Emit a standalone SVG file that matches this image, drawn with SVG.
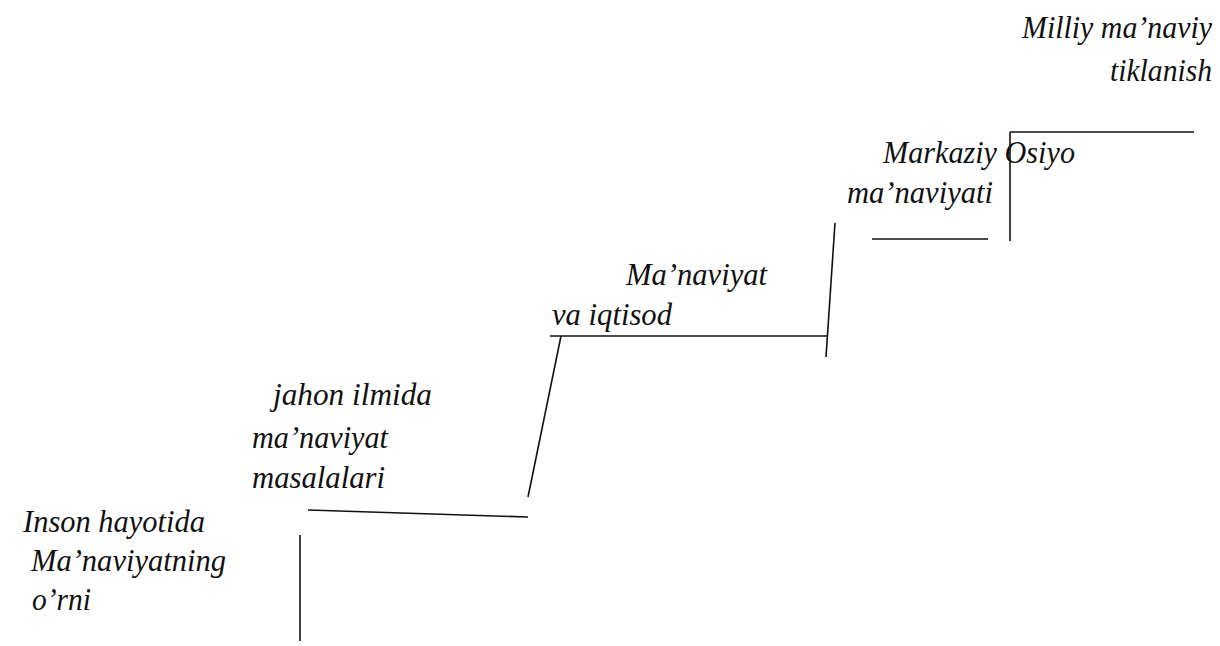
<svg xmlns="http://www.w3.org/2000/svg" width="1220" height="646" viewBox="0 0 1220 646">
<style>
text{font-family:"Liberation Serif","Times New Roman",serif;font-style:italic;font-size:31px;fill:#111}
.r{text-anchor:end}
line{stroke:#111;stroke-width:1.6;fill:none}
</style>
<rect width="1220" height="646" fill="#fff"/>
<g id="connectors">
<line x1="300" y1="535" x2="300" y2="641"/>
<line x1="308" y1="510" x2="528" y2="517"/>
<line x1="528" y1="497" x2="561" y2="336"/>
<line x1="550" y1="336" x2="828" y2="336"/>
<line x1="835" y1="223" x2="826" y2="357"/>
<line x1="872" y1="239" x2="988" y2="239"/>
<line x1="1010" y1="241" x2="1010" y2="132"/>
<line x1="1010" y1="132" x2="1194" y2="132"/>
</g>
<g id="node1">
<text x="23" y="532" textLength="182" lengthAdjust="spacingAndGlyphs">Inson hayotida</text>
<text x="31" y="571" textLength="195" lengthAdjust="spacingAndGlyphs">Ma’naviyatning</text>
<text x="32" y="610" textLength="59" lengthAdjust="spacingAndGlyphs">o’rni</text>
</g>
<g id="node2">
<text x="273" y="405" textLength="159" lengthAdjust="spacingAndGlyphs">jahon ilmida</text>
<text x="252" y="448" textLength="136" lengthAdjust="spacingAndGlyphs">ma’naviyat</text>
<text x="252" y="488" textLength="133" lengthAdjust="spacingAndGlyphs">masalalari</text>
</g>
<g id="node3">
<text x="626" y="285" textLength="141" lengthAdjust="spacingAndGlyphs">Ma’naviyat</text>
<text x="552" y="325" textLength="120" lengthAdjust="spacingAndGlyphs">va iqtisod</text>
</g>
<g id="node4">
<text x="883" y="163" textLength="192" lengthAdjust="spacingAndGlyphs">Markaziy Osiyo</text>
<text x="847" y="203" textLength="146" lengthAdjust="spacingAndGlyphs">ma’naviyati</text>
</g>
<g id="node5">
<text class="r" x="1212" y="38" textLength="190" lengthAdjust="spacingAndGlyphs">Milliy ma’naviy</text>
<text class="r" x="1212" y="81" textLength="102" lengthAdjust="spacingAndGlyphs">tiklanish</text>
</g>
</svg>
